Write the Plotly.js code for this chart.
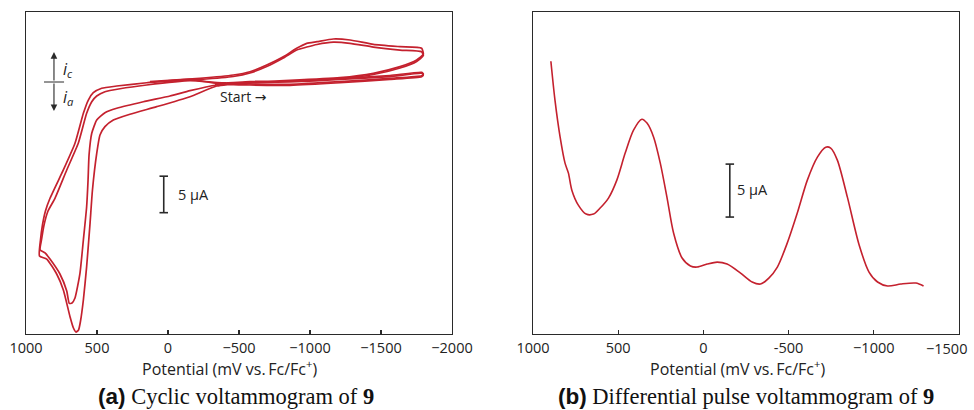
<!DOCTYPE html>
<html><head><meta charset="utf-8">
<script src="https://cdn.plot.ly/plotly-3.0.1.min.js"></script>
<style>body{margin:0;background:#fff}#c{width:974px;height:410px}</style>
</head><body><div id="c"></div>
<script>
// ---- (a) cyclic voltammogram, two cycles (E in mV, i in µA, cathodic up) ----
const cv1E = [-331,-577,-859,-1211,-1563,-1786,-1798,-1786,-1563,-1211,-859,-577,-345,-155,150,338,444,502,537,573,632,713,796,845,873,891,901,866,831,761,713,695,676,655,620,596,573,563,556,537,502,444,361,174,-14,-155,-343,-577,-859,-1211,-1446,-1634,-1751,-1798,-1786,-1634,-1446,-1282,-1164,-1049,-977,-906,-812,-695,-577,-460,-225,127];
const cv1I = [-0.21,0.07,0.14,0.48,0.89,1.33,1.10,0.86,0.51,0.04,-0.32,-0.27,-0.07,0.18,-0.41,-0.92,-1.33,-1.92,-2.70,-4.29,-8.40,-12.05,-15.93,-17.67,-19.59,-21.64,-23.01,-23.42,-24.25,-26.30,-28.63,-30.32,-30.27,-29.59,-26.21,-21.64,-17.08,-13.42,-10.0,-7.03,-5.21,-4.21,-3.60,-2.70,-1.92,-1.19,-0.41,0,0.21,0.59,1.19,2.10,3.01,3.79,4.62,4.84,5.16,5.75,5.89,5.52,5.30,4.62,3.47,2.33,1.41,0.96,0.51,0.04];
const cv2E = [-345,-577,-859,-1211,-1563,-1786,-1798,-1786,-1563,-1211,-859,-577,-345,-155,150,361,467,526,561,596,655,737,831,863,884,898,905,854,784,737,690,666,648,630,616,596,573,549,532,502,479,444,385,268,80,-155,-343,-577,-859,-1211,-1446,-1634,-1751,-1798,-1786,-1634,-1446,-1282,-1164,-1049,-977,-906,-812,-695,-577,-460,-225,127];
const cv2I = [-0.34,-0.07,0,0.34,0.75,1.19,0.96,0.73,0.37,-0.10,-0.45,-0.41,-0.21,0.37,-0.10,-0.55,-0.86,-1.47,-2.47,-4.29,-8.40,-12.05,-15.93,-17.67,-19.59,-21.64,-23.84,-24.25,-26.30,-28.49,-32.15,-33.70,-34.25,-33.97,-32.74,-29.86,-25.30,-19.36,-14.79,-9.77,-7.26,-6.12,-5.21,-4.42,-3.38,-2.01,-0.55,-0.14,0.07,0.45,1.03,1.92,2.81,3.63,4.15,4.38,4.79,5.30,5.45,5.14,4.79,4.38,3.29,2.12,1.23,0.75,0.34,-0.07];

// ---- (b) differential pulse voltammogram ----
const dpvE = [895,871,841,812,792,772,734,688,645,606,557,508,459,410,361,331,292,253,214,175,125,76,37,-22,-81,-139,-218,-286,-335,-384,-434,-492,-551,-610,-669,-718,-747,-786,-845,-914,-972,-1022,-1081,-1159,-1247,-1292];
const dpvI = [25.75,22.08,18.61,16.13,15.19,13.58,12.17,11.32,11.32,11.89,12.83,14.53,17.08,19.25,20.28,19.91,18.58,16.13,12.92,9.53,7.17,6.42,6.32,6.60,6.79,6.60,5.75,4.91,4.72,5.28,6.32,8.58,11.42,14.53,16.70,17.64,17.55,16.42,12.92,8.40,5.85,4.91,4.53,4.72,4.81,4.53];

// ---- axes ticks ----
const ticksA = [1000,500,0,-500,-1000,-1500,-2000];
const tickTextA = ["1000","500","0","\u2212500","\u22121000","\u22121500","\u22122000"];
const ticksB = [1000,500,0,-500,-1000,-1500];
const tickTextB = ["1000","500","0","-500","\u22121000",""];
const lastTickB = "\u22121500";   // drawn as an annotation so it stays inside the page
const xTitle = "Potential (mV vs.\u2009Fc/Fc<sup>+</sup>)";
const capA = "<span style=\"font-family:Liberation Sans, Arial\"><b>(a)</b></span> Cyclic voltammogram of <b>9</b>";
const capB = "<span style=\"font-family:Liberation Sans, Arial\"><b>(b)</b></span> Differential pulse voltammogram of <b>9</b>";

const RED = '#c4212e';
const INK = '#2a2a2a';
const SANS = "Open Sans, Noto Sans, sans-serif";
const SERIF = "Liberation Serif, Times New Roman, serif";

const traces = [
  {x: cv1E, y: cv1I, xaxis:'x', yaxis:'y', mode:'lines', line:{color:RED, width:1.7, shape:'spline', smoothing:0.5}, hoverinfo:'skip'},
  {x: cv2E, y: cv2I, xaxis:'x', yaxis:'y', mode:'lines', line:{color:RED, width:1.7, shape:'spline', smoothing:0.5}, hoverinfo:'skip'},
  {x: dpvE, y: dpvI, xaxis:'x2', yaxis:'y2', mode:'lines', line:{color:RED, width:1.6, shape:'spline', smoothing:0.8}, hoverinfo:'skip'}
];

function xax(dom, range, tv, tt){
  return {domain:dom, range:range, tickmode:'array', tickvals:tv, ticktext:tt,
    ticks:'inside', ticklen:4, tickwidth:1.2, tickcolor:INK, showgrid:false, zeroline:false,
    showline:true, mirror:true, linecolor:INK, linewidth:1.4, ticklabeloverflow:'allow',
    tickfont:{family:SANS, size:14.5, color:'#222'}, fixedrange:true};
}
function yax(anchor, range){
  return {anchor:anchor, range:range, showticklabels:false, ticks:'', showgrid:false, zeroline:false,
    showline:true, mirror:true, linecolor:INK, linewidth:1.4, fixedrange:true};
}

const shapes = [
  // scale bar (a)
  {type:'line', xref:'x', yref:'y', x0:30, x1:30, y0:-12.9, y1:-17.9, line:{color:INK, width:1.6}},
  {type:'line', xref:'x', yref:'y', x0:60, x1:0, y0:-12.9, y1:-12.9, line:{color:INK, width:1.6}},
  {type:'line', xref:'x', yref:'y', x0:60, x1:0, y0:-17.9, y1:-17.9, line:{color:INK, width:1.6}},
  // i=0 mark (a)
  {type:'line', xref:'x', yref:'y', x0:873, x1:732, y0:0, y1:0, line:{color:INK, width:1}},
  // scale bar (b)
  {type:'line', xref:'x2', yref:'y2', x0:-155, x1:-155, y0:16.04, y1:11.04, line:{color:INK, width:1.6}},
  {type:'line', xref:'x2', yref:'y2', x0:-130, x1:-180, y0:16.04, y1:16.04, line:{color:INK, width:1.6}},
  {type:'line', xref:'x2', yref:'y2', x0:-130, x1:-180, y0:11.04, y1:11.04, line:{color:INK, width:1.6}}
];

const annotations = [
  {xref:'x', yref:'y', x:803, y:4.1, ax:0, ay:30, showarrow:true, arrowhead:2, arrowsize:1.2, arrowwidth:1.1, arrowcolor:INK, text:''},
  {xref:'x', yref:'y', x:803, y:-3.97, ax:0, ay:-29, showarrow:true, arrowhead:2, arrowsize:1.2, arrowwidth:1.1, arrowcolor:INK, text:''},
  {xref:'x', yref:'y', x:752, y:1.7, xanchor:'left', yanchor:'middle', showarrow:false, text:'<i>i<sub>c</sub></i>', font:{family:SANS, size:16, color:'#222'}},
  {xref:'x', yref:'y', x:752, y:-2.1, xanchor:'left', yanchor:'middle', showarrow:false, text:'<i>i<sub>a</sub></i>', font:{family:SANS, size:16, color:'#222'}},
  {xref:'x', yref:'y', x:-352, y:-2.05, xanchor:'left', yanchor:'middle', showarrow:false, text:'Start <span style="font-family:DejaVu Sans">\u2192</span>', font:{family:SANS, size:14, color:'#222'}},
  {xref:'x', yref:'y', x:-58, y:-15.4, xanchor:'left', yanchor:'middle', showarrow:false, text:'5 \u00b5A', font:{family:SANS, size:14.5, color:'#222'}},
  {xref:'x2', yref:'y2', x:-188, y:13.6, xanchor:'left', yanchor:'middle', showarrow:false, text:'5 \u00b5A', font:{family:SANS, size:14.5, color:'#222'}},
  {xref:'paper', yref:'paper', x:1.0107, y:-0.045, xanchor:'right', yanchor:'middle', showarrow:false, text:lastTickB, font:{family:SANS, size:14.5, color:'#222'}},
  {xref:'paper', yref:'paper', x:0.2176, y:-0.105, xanchor:'center', yanchor:'middle', showarrow:false, text:xTitle, font:{family:SANS, size:16, color:'#222'}},
  {xref:'paper', yref:'paper', x:0.7631, y:-0.105, xanchor:'center', yanchor:'middle', showarrow:false, text:xTitle, font:{family:SANS, size:16, color:'#222'}},
  {xref:'paper', yref:'paper', x:0.2251, y:-0.195, xanchor:'center', yanchor:'middle', showarrow:false, text:capA, font:{family:SERIF, size:22.5, color:'#111'}},
  {xref:'paper', yref:'paper', x:0.7717, y:-0.195, xanchor:'center', yanchor:'middle', showarrow:false, text:capB, font:{family:SERIF, size:22.5, color:'#111'}}
];

const layout = {
  width:974, height:410, margin:{l:26, r:15, t:12, b:76},
  paper_bgcolor:'#fff', plot_bgcolor:'#fff', showlegend:false,
  xaxis: xax([0, 0.4566], [1000, -2000], ticksA, tickTextA),
  yaxis: yax('x', [-34.52, 9.59]),
  xaxis2: Object.assign(xax([0.5434, 1], [1000, -1500], ticksB, tickTextB), {anchor:'y2'}),
  yaxis2: yax('x2', [0, 30.4]),
  shapes: shapes, annotations: annotations
};
layout.xaxis.anchor = 'y';

Plotly.newPlot('c', traces, layout, {displayModeBar:false, staticPlot:true});
</script></body></html>
